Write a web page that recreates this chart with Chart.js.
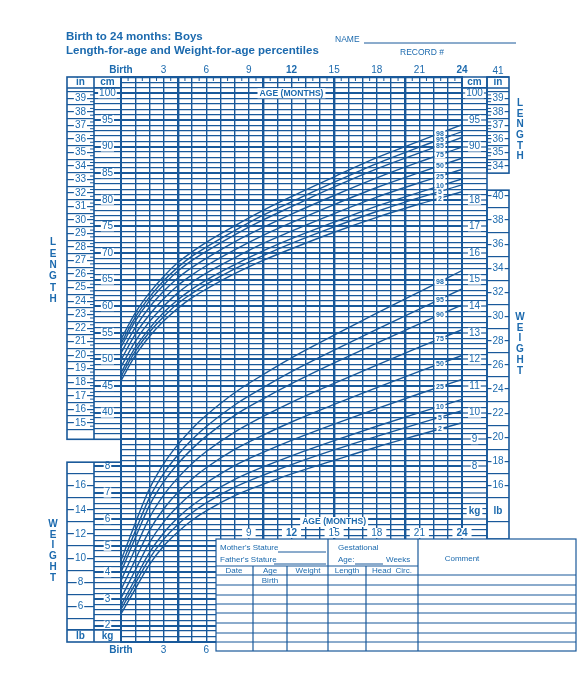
<!DOCTYPE html>
<html lang="en">
<head>
<meta charset="utf-8">
<title>Birth to 24 months: Boys</title>
<script src="https://cdn.jsdelivr.net/npm/chart.js@4.4.1/dist/chart.umd.min.js"></script>
<style>
  html, body { margin: 0; padding: 0; background: #fff; }
  #box { position: relative; width: 580px; height: 680px; }
</style>
</head>
<body>
<div id="box"><canvas id="growthChart"></canvas></div>
<script>
const ageMonths = [0, 1, 2, 3, 4, 5, 6, 8, 10, 12, 15, 18, 21, 24];

// length-for-age, cm
const len2  = [46.0, 50.7, 54.3, 57.2, 59.6, 61.6, 63.2, 66.1, 68.6, 70.8, 73.9, 76.7, 79.2, 81.5];
const len5  = [46.8, 51.5, 55.1, 58.0, 60.5, 62.4, 64.1, 67.0, 69.5, 71.8, 74.9, 77.8, 80.4, 82.8];
const len10 = [47.5, 52.2, 55.8, 58.8, 61.2, 63.2, 64.9, 67.8, 70.4, 72.7, 75.8, 78.8, 81.4, 83.9];
const len25 = [48.6, 53.4, 57.1, 60.0, 62.5, 64.5, 66.2, 69.1, 71.8, 74.1, 77.4, 80.5, 83.2, 85.7];
const len50 = [49.9, 54.7, 58.4, 61.4, 63.9, 65.9, 67.6, 70.6, 73.3, 75.7, 79.1, 82.3, 85.1, 87.8];
const len75 = [51.2, 56.0, 59.8, 62.8, 65.3, 67.3, 69.0, 72.1, 74.8, 77.3, 80.8, 84.1, 87.1, 89.9];
const len90 = [52.3, 57.2, 61.0, 64.0, 66.6, 68.6, 70.3, 73.4, 76.2, 78.7, 82.4, 85.8, 88.8, 91.7];
const len95 = [53.0, 57.9, 61.7, 64.8, 67.3, 69.4, 71.1, 74.2, 77.1, 79.6, 83.3, 86.8, 89.9, 92.8];
const len98 = [53.8, 58.7, 62.5, 65.6, 68.2, 70.2, 72.0, 75.1, 78.0, 80.6, 84.3, 87.9, 91.0, 94.1];

// weight-for-age, kg
const wt2  = [2.44, 3.37, 4.29, 4.99, 5.52, 5.96, 6.31, 6.88, 7.31, 7.70, 8.21, 8.71, 9.17, 9.62];
const wt5  = [2.61, 3.57, 4.52, 5.24, 5.80, 6.24, 6.61, 7.20, 7.65, 8.05, 8.60, 9.11, 9.60, 10.08];
const wt10 = [2.76, 3.75, 4.74, 5.48, 6.05, 6.51, 6.88, 7.49, 7.96, 8.38, 8.95, 9.49, 10.00, 10.50];
const wt25 = [3.03, 4.08, 5.12, 5.89, 6.48, 6.97, 7.36, 8.01, 8.51, 8.96, 9.57, 10.15, 10.71, 11.25];
const wt50 = [3.35, 4.47, 5.57, 6.38, 7.00, 7.51, 7.93, 8.62, 9.16, 9.65, 10.31, 10.94, 11.55, 12.15];
const wt75 = [3.69, 4.89, 6.05, 6.90, 7.55, 8.09, 8.54, 9.27, 9.86, 10.39, 11.10, 11.79, 12.46, 13.12];
const wt90 = [4.01, 5.29, 6.51, 7.40, 8.08, 8.64, 9.12, 9.90, 10.52, 11.09, 11.87, 12.61, 13.34, 14.05];
const wt95 = [4.21, 5.54, 6.80, 7.71, 8.41, 8.99, 9.48, 10.29, 10.94, 11.54, 12.35, 13.13, 13.89, 14.65];
const wt98 = [4.45, 5.84, 7.14, 8.08, 8.80, 9.40, 9.90, 10.75, 11.43, 12.06, 12.91, 13.74, 14.54, 15.34];

const lenLabels = ['2', '5', '10', '25', '50', '75', '85', '95', '98'];
const wtLabels  = ['2', '5', '10', '25', '50', '75', '90', '95', '98'];

// tick labels of the side columns
const cmLeft  = [100, 95, 90, 85, 80, 75, 70, 65, 60, 55, 50, 45, 40];
const kgLeft  = [8, 7, 6, 5, 4, 3, 2];
const inLeft  = [39, 38, 37, 36, 35, 34, 33, 32, 31, 30, 29, 28, 27, 26, 25, 24, 23, 22, 21, 20, 19, 18, 17, 16, 15];
const lbLeft  = [16, 14, 12, 10, 8, 6];
const cmRight = [100, 95, 90];
const kgRight = [18, 17, 16, 15, 14, 13, 12, 11, 10, 9, 8];
const inRight = [39, 38, 37, 36, 35, 34];
const lbRight = [40, 38, 36, 34, 32, 30, 28, 26, 24, 22, 20, 18, 16];
const ageTop    = [0, 3, 6, 9, 12, 15, 18, 21, 24];
const ageMid    = [9, 12, 15, 18, 21, 24];
const ageBottom = [0, 3, 6];
const ageBold   = [0, 12, 24];
const thickMonths = [4, 10, 15, 20];

const BLUE = '#19599a';
const TXT = '#1c6aae';
const FONT = '"Liberation Sans", Arial, Helvetica, sans-serif';
Chart.defaults.font.family = FONT;
Chart.defaults.color = TXT;

// one shared vertical scale: cm for length, on paper 1 kg = 5 cm and 2 kg sits on 0 cm
const U_MIN = -3.08, U_MAX = 103.06;
const inU = i => 2.54 * i;
const lbU = lb => 5 * lb / 2.20462 - 10;

const LABEL_AGE = 22.45;
function valueAt(arr, age) {
  for (let j = 1; j < ageMonths.length; j++) {
    if (age <= ageMonths[j]) {
      const a0 = ageMonths[j - 1], a1 = ageMonths[j];
      return arr[j - 1] + (arr[j] - arr[j - 1]) * (age - a0) / (a1 - a0);
    }
  }
  return arr[arr.length - 1];
}

const lenSeries = [len2, len5, len10, len25, len50, len75, len90, len95, len98];
const wtSeries = [wt2, wt5, wt10, wt25, wt50, wt75, wt90, wt95, wt98];

const datasets = [];
lenSeries.forEach((arr, i) => datasets.push({
  label: 'Length ' + lenLabels[i], yAxisID: 'yL',
  data: arr.map((v, j) => ({ x: ageMonths[j], y: v }))
}));
wtSeries.forEach((arr, i) => datasets.push({
  label: 'Weight ' + wtLabels[i], yAxisID: 'yW',
  data: arr.map((v, j) => ({ x: ageMonths[j], y: v }))
}));
datasets.forEach(d => Object.assign(d, {
  borderColor: BLUE, borderWidth: 1.4, pointRadius: 0, fill: false,
  cubicInterpolationMode: 'monotone'
}));

// ---- side column ticks ----
function innerLeftTicks() {
  const t = [];
  for (let u = -3; u <= 103; u++) {
    let txt = '';
    if (u >= 40 && cmLeft.includes(u)) txt = String(u);
    else if (u <= 30 && kgLeft.includes((u + 10) / 5)) txt = String((u + 10) / 5);
    t.push({ value: u, txt, show: (u >= 36 && u <= 101) || (u >= 0 && u <= 30) });
  }
  return t;
}
function innerRightTicks() {
  const t = [];
  for (let u = 17; u <= 101; u++) {
    let txt = '';
    if (u >= 90 && cmRight.includes(u)) txt = String(u);
    else if (u <= 80 && kgRight.includes((u + 10) / 5)) txt = String((u + 10) / 5);
    t.push({ value: u, txt, show: true });
  }
  return t;
}
function outerTicks(inches, halfFrom, halfTo, lbs, oddFrom, oddTo) {
  const t = [];
  inches.forEach(i => t.push({ value: inU(i), txt: String(i), show: true }));
  for (let i = halfFrom; i <= halfTo; i++) t.push({ value: inU(i), txt: '', show: true });
  lbs.forEach(lb => t.push({ value: lbU(lb), txt: String(lb), show: true }));
  for (let lb = oddFrom; lb <= oddTo; lb += 2) t.push({ value: lbU(lb), txt: '', show: true });
  return t;
}

function sideAxis(pos, weight, width, pad, build, onArea) {
  return {
    type: 'linear', position: pos, weight, min: U_MIN, max: U_MAX,
    afterBuildTicks: s => { s.ticks = build(); },
    afterFit: s => { s.width = width; },
    border: { display: false },
    grid: {
      drawOnChartArea: onArea, tickLength: width, color: BLUE,
      lineWidth: c => (c.tick && c.tick.value % 5 === 0) ? 2 : 1.2,
      tickWidth: c => (c.tick && c.tick.value % 5 === 0 && onArea) ? 2 : 1.2,
      tickColor: c => (c.tick && c.tick.show) ? BLUE : 'rgba(0,0,0,0)'
    },
    ticks: {
      autoSkip: false, crossAlign: 'center', padding: pad, color: TXT,
      font: { size: 10 },
      callback: (v, i, ts) => ts[i].txt,
      showLabelBackdrop: c => !!(c.tick && c.tick.txt),
      backdropColor: '#fff', backdropPadding: { x: 1, y: -1 }
    }
  };
}

function seg(ctx, x1, y1, x2, y2) {
  ctx.beginPath(); ctx.moveTo(x1, y1); ctx.lineTo(x2, y2); ctx.stroke();
}
function label(ctx, s, x, y, font, align, bg) {
  ctx.font = font;
  ctx.textAlign = align || 'center';
  ctx.textBaseline = 'middle';
  if (bg) {
    const w = ctx.measureText(s).width;
    const x0 = ctx.textAlign === 'left' ? x : x - w / 2;
    ctx.fillStyle = '#fff';
    ctx.fillRect(x0 - bg, y - 5, w + 2 * bg, 10);
  }
  ctx.fillStyle = TXT;
  ctx.fillText(s, x, y);
}
function column(ctx, word, x, yc, step) {
  const n = word.length;
  for (let i = 0; i < n; i++) label(ctx, word[i], x, yc + (i - (n - 1) / 2) * step, 'bold 10px ' + FONT);
}

const decor = {
  id: 'decor',
  afterDraw(chart) {
    const ctx = chart.ctx, ca = chart.chartArea, s = chart.scales;
    const X = v => s.x.getPixelForValue(v);
    const U = v => s.yL.getPixelForValue(v);
    const tt = 539;
    ctx.save();
    ctx.strokeStyle = BLUE;

    // plot frame + half-month marks on the top row
    ctx.lineWidth = 2;
    ctx.strokeRect(ca.left, ca.top, ca.right - ca.left, ca.bottom - ca.top);
    ctx.lineWidth = 1;
    for (let m = 0.5; m < 24; m++) seg(ctx, X(m), ca.top, X(m), ca.top + 4);

    // left columns: in | cm on top, lb | kg below
    const lo = s.yIn.left, lm = s.yL.left, lr = s.yL.right;
    ctx.lineWidth = 1.6;
    ctx.strokeRect(lo, ca.top, lr - lo, U(35) - ca.top);
    ctx.strokeRect(lo, U(30.7), lr - lo, ca.bottom - U(30.7));
    seg(ctx, lm, ca.top, lm, U(35));
    seg(ctx, lm, U(30.7), lm, ca.bottom);
    seg(ctx, lo, U(101), lr, U(101));
    seg(ctx, lo, U(-0.8), lr, U(-0.8));
    ctx.lineWidth = 1;
    inLeft.forEach(i => {
      seg(ctx, lm - 4, U(inU(i - 0.25)), lm, U(inU(i - 0.25)));
      seg(ctx, lm - 4, U(inU(i + 0.25)), lm, U(inU(i + 0.25)));
    });
    label(ctx, 'in', (lo + lm) / 2, (ca.top + U(101)) / 2, 'bold 10px ' + FONT);
    label(ctx, 'cm', (lm + lr) / 2, (ca.top + U(101)) / 2, 'bold 10px ' + FONT);
    label(ctx, 'lb', (lo + lm) / 2, (U(-0.8) + ca.bottom) / 2, 'bold 10px ' + FONT);
    label(ctx, 'kg', (lm + lr) / 2, (U(-0.8) + ca.bottom) / 2, 'bold 10px ' + FONT);

    // right columns: cm | in on top, kg | lb below
    const ri = s.yR.left, rm = s.yR.right, ro = s.yR2.right;
    ctx.lineWidth = 1.6;
    seg(ctx, ri, ca.top, ro, ca.top);
    seg(ctx, rm, ca.top, rm, tt);
    ctx.strokeRect(rm, ca.top, ro - rm, U(85) - ca.top);
    ctx.strokeRect(rm, U(81.8), ro - rm, tt - U(81.8));
    seg(ctx, ri, U(101), ro, U(101));
    ctx.lineWidth = 1;
    inRight.forEach(i => {
      seg(ctx, rm, U(inU(i - 0.25)), rm + 4, U(inU(i - 0.25)));
      seg(ctx, rm, U(inU(i + 0.25)), rm + 4, U(inU(i + 0.25)));
    });
    label(ctx, 'cm', (ri + rm) / 2, (ca.top + U(101)) / 2, 'bold 10px ' + FONT);
    label(ctx, 'in', (rm + ro) / 2, (ca.top + U(101)) / 2, 'bold 10px ' + FONT);
    label(ctx, 'kg', (ri + rm) / 2, 511, 'bold 10px ' + FONT, 'center', 2);
    label(ctx, 'lb', (rm + ro) / 2, 511, 'bold 10px ' + FONT, 'center', 2);
    label(ctx, '41', (rm + ro) / 2, U(inU(41)), '10px ' + FONT);

    // percentile labels on the curves
    ctx.font = 'bold 7px ' + FONT;
    const tag = (txt, px, py) => {
      const w = ctx.measureText(txt).width + 3;
      ctx.fillStyle = '#fff';
      ctx.fillRect(px - w / 2, py - 3.5, w, 7);
      ctx.fillStyle = TXT;
      ctx.textAlign = 'center'; ctx.textBaseline = 'middle';
      ctx.fillText(txt, px, py + 0.5);
    };
    lenSeries.forEach((arr, i) => tag(lenLabels[i], X(LABEL_AGE), U(valueAt(arr, LABEL_AGE))));
    wtSeries.forEach((arr, i) => tag(wtLabels[i], X(LABEL_AGE), s.yW.getPixelForValue(valueAt(arr, LABEL_AGE))));

    // AGE (MONTHS) captions and the extra age rows
    label(ctx, 'AGE (MONTHS)', X(12), U(100), 'bold 8.6px ' + FONT, 'center', 2);
    label(ctx, 'AGE (MONTHS)', X(15), 522, 'bold 8.6px ' + FONT, 'center', 2);
    ageMid.forEach(a => label(ctx, String(a), X(a), 533,
      (ageBold.includes(a) ? 'bold ' : '') + '10px ' + FONT, 'center', 4));
    ageBottom.forEach(a => label(ctx, a === 0 ? 'Birth' : String(a), X(a), 650,
      (ageBold.includes(a) ? 'bold ' : '') + '10px ' + FONT));

    // LENGTH / WEIGHT side words
    column(ctx, 'LENGTH', 53, 271, 11.4);
    column(ctx, 'WEIGHT', 53, 551, 10.8);
    column(ctx, 'LENGTH', 520, 130, 10.6);
    column(ctx, 'WEIGHT', 520, 344, 10.8);

    // record table
    const tl = 216, tr = 576, tb = 651;
    ctx.fillStyle = '#fff';
    ctx.fillRect(tl, tt, tr - tl + 4, tb - tt + 1);
    ctx.lineWidth = 1.2;
    ctx.strokeRect(tl, tt, tr - tl, tb - tt);
    seg(ctx, 328, tt, 328, tb);
    seg(ctx, 418, tt, 418, tb);
    seg(ctx, tl, 566, 418, 566);
    [253, 287, 366].forEach(cx => seg(ctx, cx, 566, cx, tb));
    [575, 585, 595, 604, 613, 623, 633, 642].forEach(ry => seg(ctx, tl, ry, tr, ry));
    const tf = '8px ' + FONT;
    label(ctx, "Mother's Stature", 220, 548, tf, 'left');
    label(ctx, "Father's Stature", 220, 560, tf, 'left');
    label(ctx, 'Gestational', 338, 548, tf, 'left');
    label(ctx, 'Age:', 338, 560, tf, 'left');
    label(ctx, 'Weeks', 386, 560, tf, 'left');
    label(ctx, 'Comment', 462, 559, tf);
    ctx.lineWidth = 1;
    seg(ctx, 278, 552, 326, 552);
    seg(ctx, 274, 564, 326, 564);
    seg(ctx, 355, 564, 383, 564);
    [['Date', 234], ['Age', 270], ['Weight', 308], ['Length', 347], ['Head  Circ.', 392]]
      .forEach(([t, cx]) => label(ctx, t, cx, 571, tf));
    label(ctx, 'Birth', 270, 581, tf);

    // heading
    label(ctx, 'Birth to 24 months: Boys', 66, 37, 'bold 11.5px ' + FONT, 'left');
    label(ctx, 'Length-for-age and Weight-for-age percentiles', 66, 51, 'bold 11.5px ' + FONT, 'left');
    label(ctx, 'NAME', 335, 40, '8.5px ' + FONT, 'left');
    seg(ctx, 364, 43, 516, 43);
    label(ctx, 'RECORD #', 400, 53, '8.5px ' + FONT, 'left');
    ctx.restore();
  }
};

const monthTicks = [];
for (let m = 0; m <= 24; m++) monthTicks.push({ value: m });

new Chart(document.getElementById('growthChart'), {
  type: 'line',
  data: { datasets },
  options: {
    responsive: true,
    maintainAspectRatio: false,
    animation: false,
    events: [],
    layout: { padding: { left: 67, right: 71, top: 63, bottom: 38 } },
    plugins: { legend: { display: false }, tooltip: { enabled: false } },
    scales: {
      x: {
        type: 'linear', position: 'top', min: 0, max: 24,
        afterBuildTicks: s => { s.ticks = monthTicks.map(t => ({ value: t.value })); },
        afterFit: s => { s.height = 14; },
        border: { display: false },
        grid: {
          color: BLUE, drawTicks: false,
          lineWidth: c => (c.tick && thickMonths.includes(c.tick.value)) ? 2.4 : 1.4
        },
        ticks: {
          autoSkip: false, maxRotation: 0, minRotation: 0, padding: 1, color: TXT,
          font: c => ({ size: 10, weight: (c.tick && ageBold.includes(c.tick.value)) ? 'bold' : 'normal' }),
          callback: v => ageTop.includes(v) ? (v === 0 ? 'Birth' : String(v)) : ''
        }
      },
      yL: sideAxis('left', 0, 27, -21.8, innerLeftTicks, true),
      yIn: sideAxis('left', 1, 27, -19, () => outerTicks(inLeft, 14.5, 39.5, lbLeft, 5, 17), false),
      yR: sideAxis('right', 0, 25, -20.8, innerRightTicks, false),
      yR2: sideAxis('right', 1, 22, -16.5, () => outerTicks(inRight, 34.5, 39.5, lbRight, 13, 39), false),
      yW: { type: 'linear', display: false, min: (U_MIN + 10) / 5, max: (U_MAX + 10) / 5 }
    }
  },
  plugins: [decor]
});
</script>
</body>
</html>
